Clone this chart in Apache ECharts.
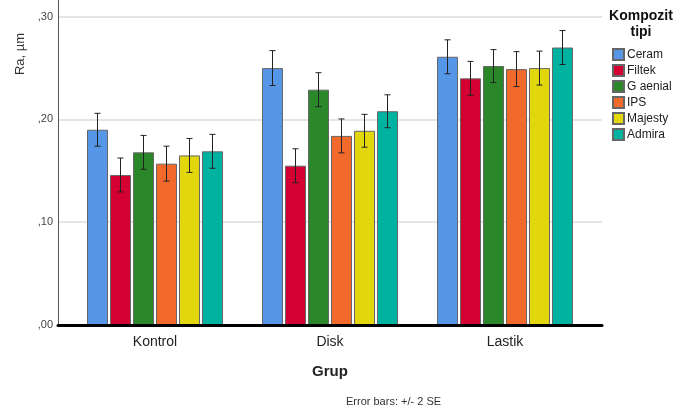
<!DOCTYPE html>
<html><head><meta charset="utf-8">
<script src="https://cdn.jsdelivr.net/npm/echarts@6/dist/echarts.min.js"></script>
<style>html,body{margin:0;padding:0;background:#fff}#c{width:678px;height:416px}</style>
</head><body><div id="c"></div>
<script>
var categories = ['Kontrol', 'Disk', 'Lastik'];
var seriesNames = ['Ceram', 'Filtek', 'G aenial', 'IPS', 'Majesty', 'Admira'];
var ceram   = [0.190, 0.250, 0.261];
var filtek  = [0.146, 0.155, 0.240];
var gaenial = [0.168, 0.229, 0.252];
var ips     = [0.157, 0.184, 0.249];
var majesty = [0.165, 0.189, 0.250];
var admira  = [0.169, 0.208, 0.270];
// error bar half-widths (2 SE)
var ceramErr   = [0.016, 0.017, 0.0165];
var filtekErr  = [0.0165, 0.0165, 0.0165];
var gaenialErr = [0.0165, 0.0165, 0.016];
var ipsErr     = [0.017, 0.0165, 0.017];
var majestyErr = [0.0165, 0.016, 0.0165];
var admiraErr  = [0.0165, 0.016, 0.0165];
var yTicks = [',00', ',10', ',20', ',30'];

var values = [ceram, filtek, gaenial, ips, majesty, admira];
var errs = [ceramErr, filtekErr, gaenialErr, ipsErr, majestyErr, admiraErr];
var colors = ['#5596e6', '#d50032', '#2a882a', '#f26a2b', '#e2d70c', '#00b2a0'];
var BW = 21, GAP = 2;

var chart = echarts.init(document.getElementById('c'), null, {renderer: 'canvas'});
var series = [];
values.forEach(function (v, i) {
  series.push({
    name: seriesNames[i], type: 'bar', xAxisIndex: 2, yAxisIndex: 2,
    data: v, barWidth: BW, barGap: (GAP / BW * 100) + '%',
    itemStyle: {color: colors[i], borderColor: '#666', borderWidth: 1},
    emphasis: {disabled: true}, z: 2
  });
});
values.forEach(function (v, i) {
  var d = v.map(function (m, k) { return [k, m - errs[i][k], m + errs[i][k]]; });
  series.push({
    type: 'custom', xAxisIndex: 2, yAxisIndex: 2, z: 5, silent: true,
    data: d,
    renderItem: function (params, api) {
      var lo = api.coord([api.value(0), api.value(1)]);
      var hi = api.coord([api.value(0), api.value(2)]);
      var x = lo[0] + (i - 2.5) * (BW + GAP);
      var cw = 3;
      var st = {stroke: '#222', lineWidth: 1};
      return {type: 'group', children: [
        {type: 'line', shape: {x1: x, y1: lo[1], x2: x, y2: hi[1]}, style: st},
        {type: 'line', shape: {x1: x - cw, y1: lo[1], x2: x + cw, y2: lo[1]}, style: st},
        {type: 'line', shape: {x1: x - cw, y1: hi[1], x2: x + cw, y2: hi[1]}, style: st}
      ]};
    }
  });
});

chart.setOption({
  animation: false,
  textStyle: {fontFamily: 'Liberation Sans, Arial, sans-serif'},
  grid: [
    {left: 58, right: 76, top: 0, bottom: 91},
    {left: 58, right: 76, top: 16.7, bottom: 91},
    {left: 67.5, right: 85.5, top: 16.7, bottom: 91}
  ],
  xAxis: [
    {gridIndex: 0, type: 'value', min: 0, max: 1, z: 10,
     axisLine: {show: true, lineStyle: {color: '#000', width: 3}},
     axisTick: {show: false}, axisLabel: {show: false}, splitLine: {show: false}},
    {gridIndex: 1, type: 'value', min: 0, max: 1, show: false},
    {gridIndex: 2, type: 'category', data: categories,
     axisLine: {show: false}, axisTick: {show: false},
     axisLabel: {color: '#222', fontSize: 14, margin: 10}}
  ],
  yAxis: [
    {gridIndex: 0, type: 'value', min: 0, max: 0.316,
     axisLine: {show: true, lineStyle: {color: '#555', width: 1}},
     axisTick: {show: false}, axisLabel: {show: false}, splitLine: {show: false}},
    {gridIndex: 1, type: 'value', min: 0, max: 0.3, interval: 0.1,
     axisLine: {show: false}, axisTick: {show: false},
     axisLabel: {color: '#444', fontSize: 11, margin: 5,
       formatter: function (v) { return yTicks[Math.round(v * 10)]; }},
     splitLine: {show: true, lineStyle: {color: '#dcdcdc', width: 1.5}}},
    {gridIndex: 2, type: 'value', min: 0, max: 0.3, show: false}
  ],
  legend: {
    data: seriesNames, orient: 'vertical', left: 612, top: 48, padding: 0,
    itemWidth: 11, itemHeight: 11, itemGap: 3, icon: 'rect',
    textStyle: {fontSize: 12, color: '#222', padding: [0, 0, 0, -2]},
    selectedMode: false
  },
  graphic: [
    {type: 'text', x: 641, y: 8, style: {text: 'Kompozit\ntipi', fontSize: 14, fontWeight: 'bold',
      fill: '#111', align: 'center', verticalAlign: 'top', lineHeight: 16,
      fontFamily: 'Liberation Sans, Arial, sans-serif'}},
    {type: 'text', x: 20, y: 54, rotation: Math.PI / 2,
     style: {text: 'Ra, µm', fontSize: 13, fill: '#333', align: 'center', verticalAlign: 'middle',
       fontFamily: 'Liberation Sans, Arial, sans-serif'}},
    {type: 'text', x: 330, y: 372, style: {text: 'Grup', fontSize: 15, fontWeight: 'bold', fill: '#222',
      align: 'center', verticalAlign: 'middle', fontFamily: 'Liberation Sans, Arial, sans-serif'}},
    {type: 'text', x: 346, y: 402, style: {text: 'Error bars: +/- 2 SE', fontSize: 11, fill: '#333',
      align: 'left', verticalAlign: 'middle', fontFamily: 'Liberation Sans, Arial, sans-serif'}}
  ],
  series: series
});
</script>
</body></html>
